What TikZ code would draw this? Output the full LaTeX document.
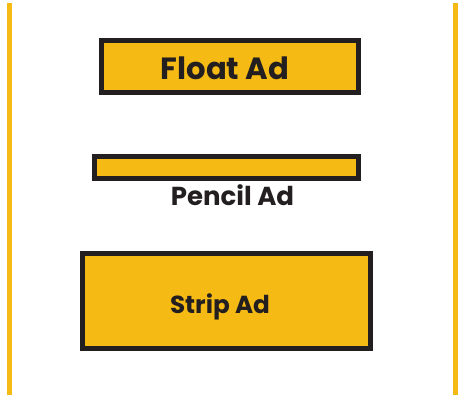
\documentclass[tikz,border=0pt]{standalone}
\usepackage{fontspec}
\setmainfont{Poppins}
\usepackage{tikz}
\definecolor{adyellow}{HTML}{F5BA14}
\definecolor{addark}{HTML}{231F20}

\tikzset{
    adbox/.style={rectangle, draw=addark, fill=adyellow, line width=3.75pt, inner sep=0pt},
    adlabel/.style={anchor=base, text=addark, font=\bfseries},
    sideline/.style={draw=adyellow, line width=3.75pt}
}

\begin{document}
\begin{tikzpicture}[x=0.75pt, y=-0.75pt]
    \useasboundingbox (0,0) rectangle (458,402);

    % side margins
    \coordinate (lt) at (9.5,3);
    \coordinate (lb) at (9.5,395);
    \coordinate (rt) at (455.5,3);
    \coordinate (rb) at (455.5,395);
    \draw[sideline] (lt) -- (lb);
    \draw[sideline] (rt) -- (rb);

    % ad boxes
    \node[adbox, minimum width=192.75pt, minimum height=39pt] (floatad) at (229.7,66.5) {};
    \node[adbox, minimum width=198pt, minimum height=16.5pt] (pencilad) at (226.5,167.5) {};
    \node[adbox, minimum width=215.75pt, minimum height=71.25pt] (stripad) at (226.3,301) {};

    % labels
    \node[adlabel, font=\bfseries\fontsize{23}{27}\selectfont] (floatlbl) at (225,80) {Float Ad};
    \node[adlabel, font=\bfseries\fontsize{19.5}{23}\selectfont] (pencillbl) at (232.5,205.7) {Pencil Ad};
    \node[adlabel, font=\bfseries\fontsize{18.5}{22}\selectfont] (striplbl) at (220,314) {Strip Ad};
\end{tikzpicture}
\end{document}
